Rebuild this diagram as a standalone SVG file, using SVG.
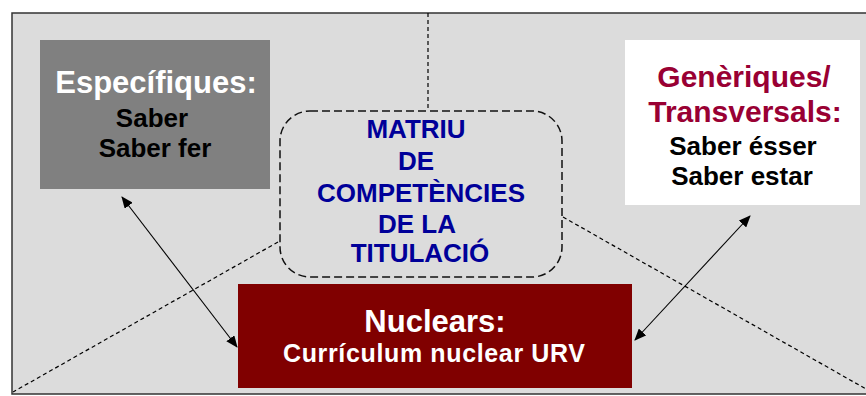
<svg xmlns="http://www.w3.org/2000/svg" width="866" height="396" viewBox="0 0 866 396">
<style>
text{font-family:"Liberation Sans",Arial,sans-serif;font-weight:bold;text-anchor:middle}
.h{font-size:31px}
.s{font-size:26px;fill:#000}
.m{font-size:26px;fill:#000099}
.dash{fill:none;stroke:#000;stroke-width:1.2;stroke-dasharray:4,3}
.arr{fill:none;stroke:#000;stroke-width:1.1;marker-start:url(#ah);marker-end:url(#ah)}
</style>
<defs>
<marker id="ah" viewBox="0 0 12 10" refX="11" refY="5" markerWidth="12" markerHeight="10" markerUnits="userSpaceOnUse" orient="auto-start-reverse">
<path d="M0,0 L12,5 L0,10 Z" fill="#000"/>
</marker>
</defs>
<rect x="0" y="0" width="866" height="396" fill="#fff"/>
<rect id="frame" x="12" y="13" width="870" height="381" fill="#dcdcdc" stroke="#333" stroke-width="1.5"/>
<g id="connectors">
<line class="dash" x1="428" y1="13" x2="428" y2="111"/>
<line class="dash" x1="278" y1="242" x2="13" y2="392"/>
<line class="dash" x1="563" y1="217" x2="866" y2="389"/>
<line class="arr" x1="122" y1="197" x2="237" y2="347"/>
<line class="arr" x1="750" y1="216" x2="635" y2="340"/>
</g>
<g id="especifiques">
<rect x="40" y="40" width="230" height="149" fill="#808080"/>
<text class="h" x="156" y="93" fill="#fff">Específiques:</text>
<text class="s" x="152" y="127">Saber</text>
<text class="s" x="155" y="157">Saber fer</text>
</g>
<g id="generiques">
<rect x="625" y="40" width="235" height="165" fill="#fff"/>
<text class="h" x="744" y="87" fill="#990033" style="font-size:30px">Genèriques/</text>
<text class="h" x="745" y="122" fill="#990033" style="font-size:30px">Transversals:</text>
<text class="s" x="743" y="155">Saber ésser</text>
<text class="s" x="742" y="185">Saber estar</text>
</g>
<g id="matriu">
<rect x="280" y="111" width="282" height="166" rx="30" ry="30" fill="none" stroke="#111" stroke-width="1.5" stroke-dasharray="8,4"/>
<text class="m" x="416" y="138">MATRIU</text>
<text class="m" x="416" y="170">DE</text>
<text class="m" x="421" y="202">COMPETÈNCIES</text>
<text class="m" x="417" y="233">DE LA</text>
<text class="m" x="420" y="262">TITULACIÓ</text>
</g>
<g id="nuclears">
<rect x="238" y="284" width="394" height="104" fill="#800000"/>
<text class="h" x="435" y="332" fill="#fff">Nuclears:</text>
<text x="434" y="362" fill="#fff" style="font-size:25px" textLength="302" lengthAdjust="spacing">Currículum nuclear URV</text>
</g>
</svg>
